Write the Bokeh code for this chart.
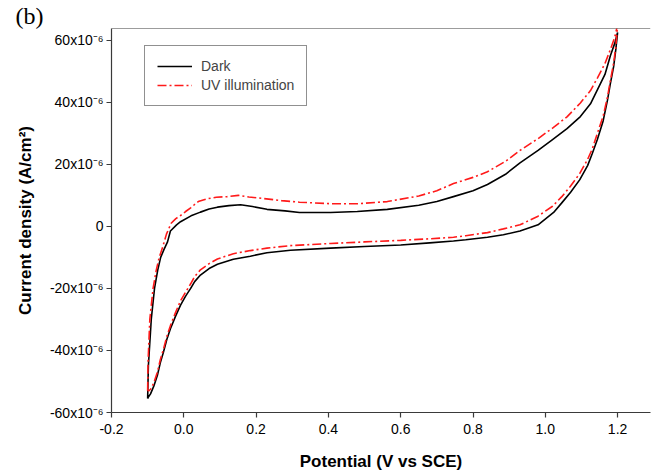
from bokeh.plotting import figure
from bokeh.models import Legend, LegendItem, FixedTicker, Span, Range1d
from bokeh.embed import file_html
from bokeh.resources import INLINE

# ---- data (current density in units of 1e-6 A/cm^2) ----
dark_fwd_v = [-0.100, -0.098, -0.090, -0.081, -0.072, -0.064, -0.055, -0.045, -0.037, -0.020, -0.009, 0.020, 0.046, 0.070, 0.093, 0.125, 0.157, 0.190, 0.230, 0.280, 0.320, 0.406, 0.480, 0.563, 0.650, 0.700, 0.746, 0.800, 0.840, 0.890, 0.930, 0.980, 1.020, 1.060, 1.097, 1.125, 1.144, 1.165, 1.180, 1.192, 1.200]
dark_fwd_j = [-55.5, -45, -30, -20, -14, -10, -7.5, -5, -1.5, 0.5, 1.5, 3.4, 4.6, 5.6, 6.2, 6.7, 7.0, 6.4, 5.5, 5.0, 4.5, 4.5, 4.8, 5.5, 6.8, 8.0, 9.6, 11.5, 13.5, 16.8, 20.5, 24.5, 28, 31.5, 35.4, 39.5, 44, 49, 55, 59, 62.5]
dark_rev_v = [1.200, 1.195, 1.189, 1.180, 1.172, 1.160, 1.144, 1.130, 1.117, 1.095, 1.070, 1.045, 1.023, 0.980, 0.930, 0.884, 0.840, 0.780, 0.746, 0.680, 0.600, 0.500, 0.406, 0.295, 0.230, 0.184, 0.137, 0.093, 0.070, 0.046, 0.030, 0.019, 0.005, -0.009, -0.023, -0.037, -0.047, -0.056, -0.065, -0.073, -0.083, -0.092, -0.098, -0.100]
dark_rev_j = [62.5, 57, 51.5, 46, 40.7, 34, 28, 23.5, 19.6, 15, 11, 7.5, 4.5, 0.5, -1.5, -2.7, -3.5, -4.3, -4.7, -5.3, -6, -6.5, -7, -7.7, -8.5, -9.6, -10.6, -12.2, -13.6, -15.7, -17.8, -20, -22.5, -25.4, -29, -33, -36.5, -40.4, -44, -48, -51.5, -54, -55, -55.5]

uv_fwd_v = [-0.100, -0.099, -0.094, -0.085, -0.076, -0.068, -0.058, -0.048, -0.035, -0.022, -0.009, 0.005, 0.019, 0.040, 0.065, 0.090, 0.120, 0.151, 0.180, 0.220, 0.270, 0.320, 0.406, 0.480, 0.563, 0.650, 0.700, 0.746, 0.800, 0.840, 0.890, 0.930, 0.980, 1.020, 1.060, 1.097, 1.125, 1.144, 1.165, 1.180, 1.192, 1.200]
uv_fwd_j = [-53, -44, -30, -20, -14, -10, -6.5, -2.5, 1.0, 2.5, 3.5, 4.8, 6, 8.0, 8.9, 9.4, 9.6, 10.0, 9.5, 9.0, 8.3, 7.8, 7.3, 7.3, 8.0, 9.8, 11.5, 13.8, 15.8, 17.6, 21, 24.5, 28.3, 31.7, 35.3, 39.8, 43.8, 47.8, 52.5, 57, 61, 65]
uv_rev_v = [1.200, 1.195, 1.189, 1.180, 1.172, 1.160, 1.144, 1.130, 1.117, 1.095, 1.070, 1.045, 1.020, 0.980, 0.930, 0.884, 0.840, 0.780, 0.746, 0.680, 0.600, 0.500, 0.406, 0.295, 0.230, 0.184, 0.137, 0.093, 0.070, 0.046, 0.030, 0.019, 0.005, -0.009, -0.023, -0.037, -0.047, -0.056, -0.065, -0.073, -0.083, -0.092, -0.097, -0.100]
uv_rev_j = [65, 58, 52.6, 47, 41.7, 35.5, 30, 25, 21.6, 17, 13, 9.5, 6.5, 3.3, 0.5, -0.8, -2, -3, -3.5, -4, -4.5, -5, -5.5, -6.2, -7, -7.8, -8.8, -10.5, -12, -14, -16.2, -18.5, -21.2, -24, -27.8, -32, -35.5, -39.5, -43, -47, -50.5, -52.5, -53, -53]

x_ticks = [-0.2, 0.0, 0.2, 0.4, 0.6, 0.8, 1.0, 1.2]
x_tick_labels = ["-0.2", "0.0", "0.2", "0.4", "0.6", "0.8", "1.0", "1.2"]
y_ticks = [-60, -40, -20, 0, 20, 40, 60]
y_tick_labels = ["-60x10\u207b\u2076", "-40x10\u207b\u2076", "-20x10\u207b\u2076", "0",
                 "20x10\u207b\u2076", "40x10\u207b\u2076", "60x10\u207b\u2076"]
panel_tag = "(b)"

FONT = "Liberation Sans"
AX = "#3a3a3a"
Y_TOP = 63.8

p = figure(width=652, height=473, output_backend="svg", toolbar_location=None,
           x_range=Range1d(-0.2, 1.291), y_range=Range1d(-60, Y_TOP),
           min_border_left=111, min_border_top=0, min_border_bottom=59, min_border_right=2)
p.outline_line_color = None
p.grid.visible = False
p.background_fill_color = "white"

p.title.text = panel_tag
p.title.text_font = "Liberation Serif"
p.title.text_font_size = "24px"
p.title.text_font_style = "normal"
p.title.text_color = "black"
p.title.align = "left"
p.title.offset = -96
p.title.standoff = 0

dark_v = dark_fwd_v + dark_rev_v
dark_j = dark_fwd_j + dark_rev_j
uv_v = uv_fwd_v + uv_rev_v
uv_j = uv_fwd_j + uv_rev_j

r_dark = p.line(dark_v, dark_j, line_color="black", line_width=1.6)
r_uv = p.line(uv_v, uv_j, line_color="#ff1a1a", line_width=1.6, line_dash="9 3 2 3")

for ax in (p.xaxis[0], p.yaxis[0]):
    ax.axis_line_color = AX
    ax.axis_line_width = 1.2
    ax.major_tick_line_color = AX
    ax.major_tick_line_width = 1.2
    ax.major_tick_in = 0
    ax.major_tick_out = 5
    ax.minor_tick_line_color = None
    ax.major_label_text_font = FONT
    ax.major_label_text_font_size = "14px"
    ax.major_label_text_color = "black"
    ax.axis_label_text_font = FONT
    ax.axis_label_text_font_style = "bold"
    ax.axis_label_text_font_size = "17px"
    ax.axis_label_text_color = "black"

p.xaxis.ticker = FixedTicker(ticks=x_ticks)
p.xaxis.major_label_overrides = {t: l for t, l in zip(x_ticks, x_tick_labels)}
p.yaxis.ticker = FixedTicker(ticks=y_ticks)
p.yaxis.major_label_overrides = {t: l for t, l in zip(y_ticks, y_tick_labels)}
p.xaxis.major_label_standoff = 6
p.yaxis.major_label_standoff = 3
p.xaxis.axis_label = "Potential (V vs SCE)"
p.yaxis.axis_label = "Current density (A/cm\u00b2)"
p.xaxis.axis_label_standoff = 15
p.yaxis.axis_label_standoff = 12

p.add_layout(Span(location=Y_TOP, dimension="width", line_color=AX, line_width=1.2))

legend = Legend(items=[LegendItem(label="Dark", renderers=[r_dark]),
                       LegendItem(label="UV illumination", renderers=[r_uv])],
                location=(33, 306))
legend.border_line_color = "#222222"
legend.border_line_width = 1
legend.label_text_font = FONT
legend.label_text_font_size = "14px"
legend.glyph_width = 35
legend.glyph_height = 14
legend.label_height = 15
legend.spacing = 3
legend.padding = 12
legend.margin = 0
legend.label_standoff = 9
p.add_layout(legend, "center")

open("out.html", "w").write(file_html(p, INLINE))
